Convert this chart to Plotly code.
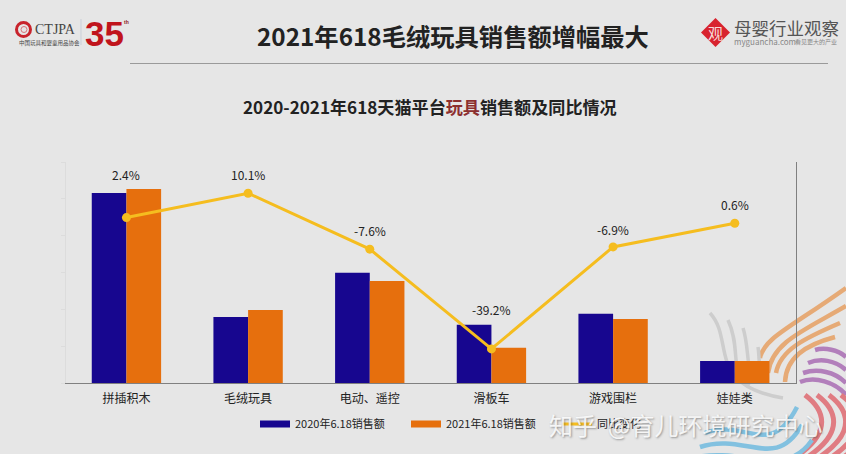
import plotly.graph_objects as go

categories = ["拼插积木", "毛绒玩具", "电动、遥控", "滑板车", "游戏围栏", "娃娃类"]
sales_2020 = [51.6, 17.9, 29.9, 15.8, 18.8, 6.0]
sales_2021 = [52.7, 19.8, 27.7, 9.6, 17.4, 6.0]
yoy_change = [2.4, 10.1, -7.6, -39.2, -6.9, 0.6]
yoy_labels = ["2.4%", "10.1%", "-7.6%", "-39.2%", "-6.9%", "0.6%"]
label_shift = [43, 19, 19, 39, 17, 19]
series_names = ["2020年6.18销售额", "2021年6.18销售额", "同比变化"]

W, H = 846, 454
NAVY, ORANGE, YELLOW = "#17068f", "#e66f0d", "#f5bd1f"
FONT = "Noto Sans CJK SC"


def px(x):
    return x / W


def py(y):
    return 1 - y / H


def curve(points, color, width, opacity=1.0):
    """Decorative stroke in page pixels: first point, then cubic triples."""
    parts = [f"M{px(points[0][0]):.4f},{py(points[0][1]):.4f}"]
    for i in range(1, len(points), 3):
        tri = points[i:i + 3]
        parts.append("C" + " ".join(f"{px(a):.4f},{py(b):.4f}" for a, b in tri))
    return dict(type="path", xref="paper", yref="paper", path=" ".join(parts), layer="below",
                line=dict(color=color, width=width), opacity=opacity)


def label(x, y, text, size, color="#222222", bold=False, family=FONT, anchor="center", **font_extra):
    return dict(xref="paper", yref="paper", x=px(x), y=py(y), text=f"<b>{text}</b>" if bold else text,
                showarrow=False, xanchor=anchor, yanchor="middle",
                font=dict(size=size, color=color, family=family, **font_extra))


fig = go.Figure()
fig.add_bar(x=categories, y=sales_2020, marker=dict(color=NAVY, line_width=0), showlegend=False, name=series_names[0])
fig.add_bar(x=categories, y=sales_2021, marker=dict(color=ORANGE, line_width=0), showlegend=False, name=series_names[1])
fig.add_scatter(x=categories, y=yoy_change, yaxis="y2", mode="lines+markers", name=series_names[2],
                line=dict(color=YELLOW, width=3), marker=dict(color=YELLOW, size=9), showlegend=False)
# legend keys: wide flat swatches as in the reference
fig.add_scatter(x=[None], y=[None], mode="lines", name=series_names[0], line=dict(color=NAVY, width=7))
fig.add_scatter(x=[None], y=[None], mode="lines", name=series_names[1], line=dict(color=ORANGE, width=7))
fig.add_scatter(x=[None], y=[None], mode="lines", name=series_names[2], line=dict(color=YELLOW, width=3))

shapes = [
    dict(type="line", xref="paper", yref="paper", x0=px(130), x1=px(828), y0=py(63.5), y1=py(63.5),
         line=dict(color="#9a9a9a", width=1), layer="below"),
    dict(type="line", xref="paper", yref="paper", x0=px(81), x1=px(81), y0=py(19), y1=py(45),
         line=dict(color="#c9cfd8", width=1), layer="below"),
    # CTJPA emblem
    dict(type="circle", xref="paper", yref="paper", x0=px(16.5), x1=px(30.5), y0=py(36.5), y1=py(22.5),
         line=dict(color="#c8232c", width=3), layer="below"),
    dict(type="circle", xref="paper", yref="paper", x0=px(21), x1=px(27), y0=py(32.5), y1=py(26.5),
         line=dict(color="#d9737a", width=1), layer="below"),
    # right logo diamond
    dict(type="path", xref="paper", yref="paper", layer="below", fillcolor="#d8232f", line_width=0,
         path=f"M{px(701)},{py(32.5)} L{px(715.5)},{py(18)} L{px(730)},{py(32.5)} L{px(715.5)},{py(47)} Z"),
]
ORANGE_SOFT, GREY_SOFT, PURPLE, RED, BLUE = "#e6aa76", "#cdcdcd", "#b27fbb", "#e07c82", "#82c1e0"
for pts in [
    [(760, 358), (764, 338), (790, 328), (846, 288)],
    [(768, 373), (772, 342), (805, 330), (846, 306)],
    [(776, 373), (780, 350), (805, 338), (840, 323)],
    [(785, 382), (786, 358), (805, 345), (835, 337)],
]:
    shapes.append(curve(pts, ORANGE_SOFT, 4.5))
for pts in [
    [(710, 313), (735, 340), (705, 385), (783, 398)],
    [(728, 320), (742, 350), (728, 375), (750, 385)],
    [(743, 328), (750, 350), (745, 372), (757, 382)],
    [(758, 347), (760, 360), (758, 372), (764, 380)],
]:
    shapes.append(curve(pts, GREY_SOFT, 3.5))
for pts in [
    [(815, 350), (825, 347), (838, 350), (846, 357)],
    [(808, 363), (820, 358), (835, 360), (846, 370)],
    [(803, 373), (818, 368), (835, 372), (846, 383)],
    [(800, 382), (815, 376), (835, 382), (846, 395)],
]:
    shapes.append(curve(pts, PURPLE, 4.5))
for o in [0, 12, 24, 36, 48]:
    shapes.append(curve([(805 + o, 395), (825 + o, 410), (832 + o, 432), (797 + o, 456)], RED, 5))
for pts in [
    [(705, 433), (745, 418), (770, 460), (797, 407)],
    [(700, 447), (745, 432), (775, 472), (802, 425)],
    [(692, 458), (745, 446), (785, 480), (812, 440)],
]:
    shapes.append(curve(pts, BLUE, 4.5))

annotations = [
    label(452.5, 36, "2021年618毛绒玩具销售额增幅最大", 24.3, "#222222", True),
    label(430, 106, "2020-2021年618天猫平台<span style='color:#8c2f2f'>玩具</span>销售额及同比情况", 17.1, "#222222", True),
    label(33, 30, "CTJPA", 14, "#444444", family="Liberation Serif", anchor="left"),
    label(17, 43, "中国玩具和婴童用品协会", 5.5, "#444444", anchor="left"),
    label(104.5, 33, "35", 35, "#c0141c", True, family="Liberation Sans"),
    label(126.5, 22, "th", 5, "#8a1515", True, family="Liberation Sans"),
    label(715.5, 32.5, "观", 15, "#f6d9d9"),
    label(732, 27, "母婴行业观察", 17.5, "#555555", anchor="left"),
    label(732, 41, "myguancha.com", 8, "#888888", anchor="left"),
    label(793, 41, "看见更大的产业", 6, "#888888", anchor="left"),
]
for cat, val, txt, shift in zip(categories, yoy_change, yoy_labels, label_shift):
    annotations.append(dict(x=cat, y=val, xref="x", yref="y2", text=txt, showarrow=False, yshift=shift,
                            font=dict(size=12, color="#222222", family=FONT)))
# watermark on top of everything
annotations.append(label(685, 424, "知乎&nbsp;&nbsp;@育儿环境研究中心", 24, "rgba(255,255,255,0.85)",
                         shadow="1px 1px 2px rgba(60,60,60,0.55)"))

fig.update_layout(
    width=W, height=H, margin=dict(l=0, r=0, t=0, b=0),
    paper_bgcolor="#e6e6e6", plot_bgcolor="rgba(0,0,0,0)",
    font=dict(family=FONT, size=12, color="#222222"),
    barmode="group", bargap=0.43, bargroupgap=0,
    xaxis=dict(domain=[px(65.6), px(795.6)], anchor="y", showgrid=False, ticks="", tickfont=dict(size=12),
               ticklabelstandoff=5, showline=True, linecolor="#808080", linewidth=1),
    yaxis=dict(domain=[py(383), py(162)], range=[0, 60], dtick=10, showgrid=False, showticklabels=False,
               showline=True, linecolor="#dcdcdc", ticks="outside", ticklen=4, tickcolor="#dcdcdc", zeroline=False),
    yaxis2=dict(domain=[py(383), py(162)], anchor="x", overlaying="y", side="right", range=[-50, 20],
                showgrid=False, showticklabels=False, showline=True, linecolor="#808080", linewidth=1, zeroline=False),
    legend=dict(orientation="h", x=px(255), y=py(424), xanchor="left", yanchor="middle", bgcolor="rgba(0,0,0,0)",
                entrywidthmode="pixels", entrywidth=106, itemwidth=30, font=dict(size=11, color="#222222")),
    shapes=shapes, annotations=annotations,
)
fig.write_html("out.html", config={"displayModeBar": False},
               post_script="document.body.style.margin='0';document.body.style.overflow='hidden';")
